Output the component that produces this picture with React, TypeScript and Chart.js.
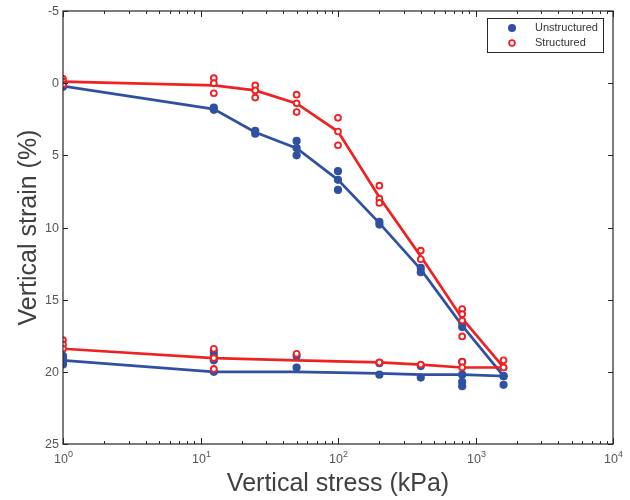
import React, { useEffect, useRef } from "react";
import { Chart, registerables } from "chart.js";

Chart.register(...registerables);

// Stress levels (kPa)
const loadStress = [1, 12.5, 25, 50, 100, 200, 400, 800, 1600];
const unloadStress = [1600, 800, 400, 200, 50, 12.5, 1];

// Mean curves (vertical strain %)
const unstructuredLoadMean = [0.2, 1.8, 3.4, 4.5, 6.7, 9.7, 12.9, 16.8, 20.3];
const unstructuredUnloadMean = [20.3, 20.2, 20.2, 20.1, 20.0, 20.0, 19.2];
const structuredLoadMean = [-0.1, 0.15, 0.5, 1.4, 3.35, 7.9, 12.0, 16.3, 19.7];
const structuredUnloadMean = [19.7, 19.7, 19.5, 19.35, 19.2, 19.05, 18.4];

// Individual specimens (vertical strain %) per stress level
const unstructuredLoadPts = [[0.1, 0.25], [1.7, 1.85], [3.3, 3.5], [4.0, 4.5, 5.0], [6.1, 6.7, 7.4], [9.6, 9.8], [12.8, 13.1], [16.6, 16.9], [20.3]];
const unstructuredUnloadPts = [[20.3, 20.9], [19.3, 20.2, 20.7, 21.0], [19.6, 20.4], [19.4, 20.2], [18.9, 19.7], [18.6, 18.9, 19.2, 20.0], [18.9, 19.1, 19.3, 19.5]];
const structuredLoadPts = [[-0.3, -0.1, 0.1], [-0.35, 0.0, 0.7], [0.15, 0.5, 1.0], [0.8, 1.4, 2.0], [2.4, 3.35, 4.3], [7.1, 8.0, 8.3], [11.6, 12.2], [15.65, 16.0, 16.45, 17.55], [19.2, 19.7]];
const structuredUnloadPts = [[19.7], [19.3, 19.7], [19.5], [19.35], [18.75], [18.4, 19.05, 19.8], [17.8, 18.1, 18.4]];

// Axis ticks
const xMajorTicks = [1, 10, 100, 1000, 10000];
const xTickExponents = ["0", "1", "2", "3", "4"];
const yTicks = [-5, 0, 5, 10, 15, 20, 25];

const seriesNames = ["Unstructured", "Structured"];
const BLUE = "#3050a2";
const RED = "#ee2222";
const FONT = "'Liberation Sans', Arial, sans-serif";

function toPoints(stress: number[], vals: number[]) {
  return stress.map((s, i) => ({ x: s, y: vals[i] }));
}
function toScatter(stress: number[], groups: number[][]) {
  const out: { x: number; y: number }[] = [];
  stress.forEach((s, i) => groups[i].forEach((v) => out.push({ x: s, y: v })));
  return out;
}

const framePlugin = {
  id: "matlabFrame",
  afterDraw(chart: any) {
    const ctx = chart.ctx;
    const { left, right, top, bottom } = chart.chartArea;
    const xs = chart.scales.x;
    const ys = chart.scales.y;
    ctx.save();
    // frame
    ctx.strokeStyle = "#262626";
    ctx.lineWidth = 1.2;
    ctx.strokeRect(left, top, right - left, bottom - top);
    // y ticks
    ctx.lineWidth = 1;
    ctx.fillStyle = "#555";
    ctx.font = `12.5px ${FONT}`;
    ctx.textAlign = "right";
    ctx.textBaseline = "middle";
    yTicks.forEach((v) => {
      const py = Math.round(ys.getPixelForValue(v)) + 0.5;
      ctx.beginPath();
      ctx.moveTo(left, py);
      ctx.lineTo(left + 5, py);
      ctx.moveTo(right, py);
      ctx.lineTo(right - 5, py);
      ctx.stroke();
      ctx.fillText(String(v), left - 4, py);
    });
    // x ticks (major + minor)
    for (let k = 0; k < 4; k++) {
      for (let m = 2; m <= 9; m++) {
        const px = Math.round(xs.getPixelForValue(m * Math.pow(10, k))) + 0.5;
        ctx.beginPath();
        ctx.moveTo(px, bottom);
        ctx.lineTo(px, bottom - 3);
        ctx.moveTo(px, top);
        ctx.lineTo(px, top + 3);
        ctx.stroke();
      }
    }
    xMajorTicks.forEach((v, i) => {
      const px = Math.round(xs.getPixelForValue(v)) + 0.5;
      ctx.beginPath();
      ctx.moveTo(px, bottom);
      ctx.lineTo(px, bottom - 6);
      ctx.moveTo(px, top);
      ctx.lineTo(px, top + 6);
      ctx.stroke();
      ctx.font = `12.5px ${FONT}`;
      const baseW = ctx.measureText("10").width;
      ctx.font = `9px ${FONT}`;
      const expW = ctx.measureText(xTickExponents[i]).width;
      const start = px - (baseW + expW) / 2;
      ctx.textAlign = "left";
      ctx.textBaseline = "alphabetic";
      ctx.font = `12.5px ${FONT}`;
      ctx.fillText("10", start, bottom + 19);
      ctx.font = `9px ${FONT}`;
      ctx.fillText(xTickExponents[i], start + baseW, bottom + 13);
    });
    // axis titles
    ctx.fillStyle = "#404040";
    ctx.font = `25px ${FONT}`;
    ctx.textAlign = "center";
    ctx.textBaseline = "alphabetic";
    ctx.fillText("Vertical stress (kPa)", (left + right) / 2, 491);
    ctx.save();
    ctx.translate(36, (top + bottom) / 2);
    ctx.rotate(-Math.PI / 2);
    ctx.fillText("Vertical strain (%)", 0, 0);
    ctx.restore();
    // legend
    const lx = 487, ly = 18, lw = 116, lh = 34;
    ctx.fillStyle = "#fff";
    ctx.fillRect(lx, ly, lw, lh);
    ctx.strokeStyle = "#262626";
    ctx.lineWidth = 1;
    ctx.strokeRect(lx + 0.5, ly + 0.5, lw, lh);
    ctx.fillStyle = BLUE;
    ctx.beginPath();
    ctx.arc(512, 28, 4, 0, Math.PI * 2);
    ctx.fill();
    ctx.strokeStyle = RED;
    ctx.lineWidth = 1.8;
    ctx.fillStyle = "#fff";
    ctx.beginPath();
    ctx.arc(512, 43, 2.9, 0, Math.PI * 2);
    ctx.fill();
    ctx.stroke();
    ctx.fillStyle = "#333";
    ctx.font = `11px ${FONT}`;
    ctx.textAlign = "left";
    ctx.textBaseline = "middle";
    ctx.fillText(seriesNames[0], 535, 28);
    ctx.fillText(seriesNames[1], 535, 43);
    ctx.restore();
  },
};

export default function App() {
  const ref = useRef<HTMLCanvasElement | null>(null);
  useEffect(() => {
    document.body.style.margin = "0";
    const canvas = ref.current!;
    const chart = new Chart(canvas, {
      type: "scatter",
      data: {
        datasets: [
          {
            label: seriesNames[0] + " mean",
            data: [...toPoints(loadStress, unstructuredLoadMean), ...toPoints(unloadStress, unstructuredUnloadMean)],
            showLine: true,
            borderColor: BLUE,
            borderWidth: 2.7,
            pointRadius: 0,
            order: 4,
          },
          {
            label: seriesNames[0],
            data: [...toScatter(loadStress, unstructuredLoadPts), ...toScatter(unloadStress, unstructuredUnloadPts)],
            backgroundColor: BLUE,
            borderColor: BLUE,
            borderWidth: 0,
            pointRadius: 4.1,
            order: 3,
          },
          {
            label: seriesNames[1] + " mean",
            data: [...toPoints(loadStress, structuredLoadMean), ...toPoints(unloadStress, structuredUnloadMean)],
            showLine: true,
            borderColor: RED,
            borderWidth: 2.7,
            pointRadius: 0,
            order: 2,
          },
          {
            label: seriesNames[1],
            data: [...toScatter(loadStress, structuredLoadPts), ...toScatter(unloadStress, structuredUnloadPts)],
            backgroundColor: "#ffffff",
            borderColor: RED,
            borderWidth: 1.9,
            pointRadius: 2.9,
            order: 1,
          },
        ],
      },
      options: {
        responsive: false,
        animation: false,
        layout: { padding: { top: 11, right: 17, left: 0, bottom: 0 } },
        plugins: { legend: { display: false }, tooltip: { enabled: false } },
        scales: {
          x: {
            type: "logarithmic",
            min: 1,
            max: 10000,
            grid: { display: false },
            border: { display: false },
            ticks: { display: false },
            afterFit: (s: any) => { s.height = 56; },
          },
          y: {
            type: "linear",
            reverse: true,
            min: -5,
            max: 25,
            grid: { display: false },
            border: { display: false },
            ticks: { display: false, stepSize: 5 },
            afterFit: (s: any) => { s.width = 63; },
          },
        },
      },
      plugins: [framePlugin],
    } as any);
    return () => chart.destroy();
  }, []);
  return (
    <div style={{ width: 630, height: 500 }}>
      <canvas ref={ref} width={630} height={500} />
    </div>
  );
}
